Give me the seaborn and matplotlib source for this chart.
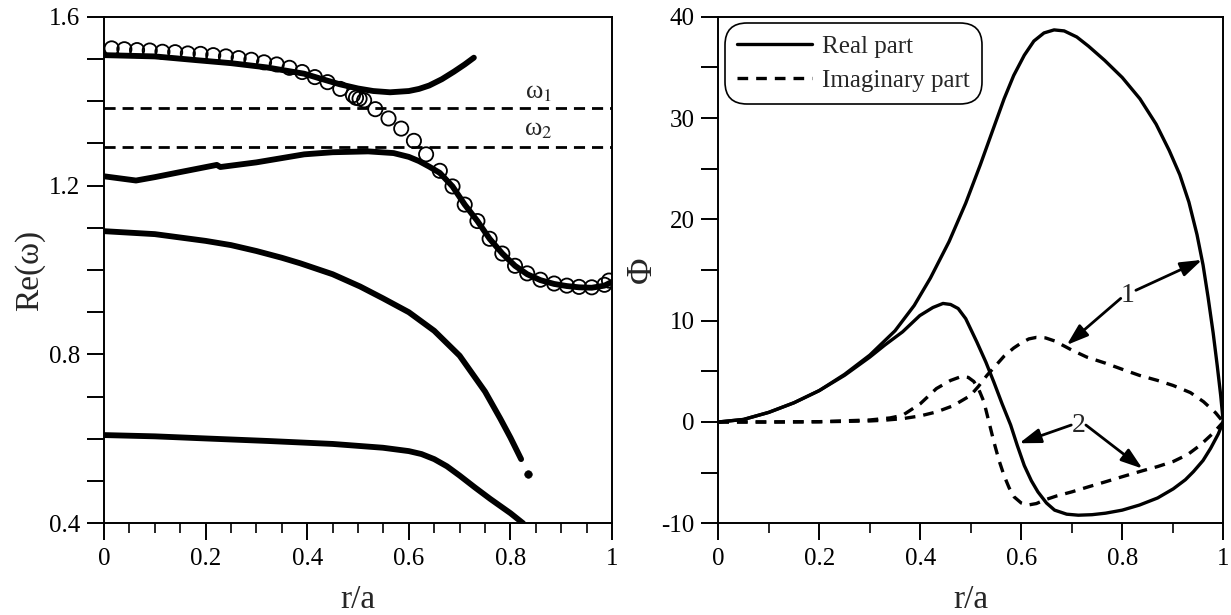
import numpy as np
import pandas as pd
import seaborn as sns
import matplotlib.pyplot as plt
from matplotlib.ticker import FixedLocator, MultipleLocator, FuncFormatter

# ---- left panel: Re(omega) vs r/a ----
# upper branch (ends at r/a ~ 0.73)
r_a = [0.0, 0.1, 0.183, 0.25, 0.32, 0.394, 0.43, 0.464, 0.5, 0.53, 0.563, 0.6, 0.62, 0.64, 0.665,
       0.689, 0.71, 0.728]
w_a = [1.509, 1.506, 1.497, 1.490, 1.480, 1.465, 1.452, 1.440, 1.430, 1.424, 1.421, 1.424, 1.429, 1.437, 1.452,
       1.470, 1.487, 1.503]

# second branch, joins the circles past r/a ~ 0.65
r_b = [0.0, 0.063, 0.1, 0.15, 0.222, 0.229, 0.3, 0.394, 0.45, 0.52, 0.57, 0.6, 0.62, 0.64, 0.661, 0.686,
       0.71, 0.735, 0.759, 0.784, 0.809, 0.833, 0.859, 0.886, 0.911, 0.935, 0.96, 0.985, 1.0]
w_b = [1.222, 1.212, 1.220, 1.232, 1.249, 1.244, 1.255, 1.274, 1.279, 1.281, 1.277, 1.268, 1.258, 1.245, 1.230, 1.198,
       1.155, 1.116, 1.074, 1.039, 1.010, 0.990, 0.976, 0.967, 0.962, 0.959, 0.958, 0.963, 0.972]

# third branch
r_c = [0.0, 0.1, 0.2, 0.25, 0.3, 0.35, 0.386, 0.45, 0.504, 0.549, 0.6, 0.65, 0.7, 0.75, 0.78, 0.8, 0.821]
w_c = [1.092, 1.085, 1.069, 1.059, 1.045, 1.029, 1.016, 0.990, 0.961, 0.933, 0.900, 0.856, 0.797, 0.712, 0.648,
       0.603, 0.552]
r_c_end = [0.835]
w_c_end = [0.516]

# lowest branch
r_d = [0.0, 0.1, 0.2, 0.323, 0.45, 0.549, 0.6, 0.625, 0.65, 0.675, 0.7, 0.73, 0.76, 0.78, 0.8, 0.825]
w_d = [0.609, 0.606, 0.601, 0.595, 0.588, 0.579, 0.571, 0.564, 0.552, 0.535, 0.513, 0.485, 0.458, 0.441,
       0.424, 0.400]

# open circles
r_o = [0.015, 0.04, 0.065, 0.09, 0.115, 0.14, 0.165, 0.19, 0.215, 0.24, 0.265, 0.29, 0.315, 0.34,
       0.365, 0.39, 0.415, 0.44, 0.465, 0.49, 0.496, 0.503, 0.512, 0.534, 0.56, 0.585, 0.61, 0.634,
       0.661, 0.686, 0.71, 0.735, 0.759, 0.784, 0.809, 0.833, 0.859, 0.886, 0.911, 0.935, 0.96, 0.985, 0.994]
w_o = [1.525, 1.523, 1.521, 1.520, 1.517, 1.516, 1.513, 1.512, 1.509, 1.506, 1.502, 1.498, 1.492, 1.487,
       1.479, 1.469, 1.457, 1.445, 1.429, 1.414, 1.408, 1.406, 1.402, 1.381, 1.359, 1.335, 1.306, 1.274,
       1.235, 1.198, 1.155, 1.116, 1.074, 1.039, 1.010, 0.992, 0.977, 0.968, 0.963, 0.960, 0.959, 0.965, 0.975]

omega_1 = 1.384
omega_2 = 1.292

# ---- right panel: Phi vs r/a ----
r_re1 = [0.0, 0.05, 0.1, 0.15, 0.2, 0.25, 0.3, 0.35, 0.388, 0.42, 0.457, 0.49, 0.519, 0.545, 0.566,
         0.585, 0.606, 0.625, 0.645, 0.665, 0.685, 0.71, 0.733, 0.765, 0.8, 0.835, 0.867, 0.893, 0.914,
         0.932, 0.948, 0.96, 0.97, 0.98, 0.988, 0.995, 1.0]
phi_re1 = [0.0, 0.25, 0.95, 1.9, 3.1, 4.7, 6.6, 9.0, 11.5, 14.2, 17.8, 21.6, 25.4, 29.0, 31.9,
           34.2, 36.2, 37.6, 38.4, 38.7, 38.6, 38.0, 37.1, 35.7, 34.0, 31.9, 29.4, 26.8, 24.4,
           21.7, 18.5, 15.5, 12.3, 8.8, 5.6, 2.6, 0.0]

r_re2 = [0.0, 0.05, 0.1, 0.15, 0.2, 0.25, 0.3, 0.33, 0.365, 0.399, 0.425, 0.445, 0.46, 0.475, 0.49,
         0.512, 0.53, 0.546, 0.562, 0.579, 0.592, 0.606, 0.62, 0.633, 0.65, 0.666, 0.69, 0.713, 0.74,
         0.767, 0.8, 0.834, 0.87, 0.901, 0.925, 0.941, 0.96, 0.975, 0.99, 1.0]
phi_re2 = [0.0, 0.25, 0.95, 1.9, 3.1, 4.6, 6.4, 7.6, 8.9, 10.5, 11.3, 11.7, 11.6, 11.2, 10.2,
           7.9, 5.9, 3.9, 1.8, -0.3, -2.3, -4.3, -5.8, -6.9, -8.0, -8.7, -9.1, -9.2, -9.15,
           -9.0, -8.7, -8.2, -7.5, -6.6, -5.7, -4.9, -3.8, -2.6, -1.2, 0.0]

r_im1 = [0.0, 0.1, 0.2, 0.3, 0.33, 0.365, 0.4, 0.432, 0.465, 0.499, 0.515, 0.532, 0.55, 0.566, 0.585,
         0.6, 0.615, 0.63, 0.648, 0.666, 0.685, 0.7, 0.73, 0.767, 0.8, 0.834, 0.87, 0.901, 0.935,
         0.961, 0.985, 1.0]
phi_im1 = [0.0, 0.0, 0.02, 0.1, 0.18, 0.33, 0.6, 0.99, 1.6, 2.6, 3.5, 4.6, 5.6, 6.5, 7.3,
           7.8, 8.2, 8.35, 8.3, 8.0, 7.5, 7.1, 6.4, 5.8, 5.2, 4.6, 4.1, 3.6, 2.9,
           2.0, 0.9, 0.0]

r_im2 = [0.0, 0.1, 0.2, 0.3, 0.34, 0.365, 0.4, 0.432, 0.46, 0.482, 0.495, 0.506, 0.516, 0.526, 0.536,
         0.546, 0.556, 0.566, 0.576, 0.586, 0.6, 0.613, 0.63, 0.646, 0.67, 0.7, 0.733, 0.767, 0.8,
         0.841, 0.87, 0.901, 0.93, 0.954, 0.98, 1.0]
phi_im2 = [0.0, 0.0, 0.03, 0.2, 0.4, 0.66, 1.8, 3.3, 4.1, 4.5, 4.4, 4.0, 3.2, 2.0, 0.0,
           -2.0, -3.8, -5.3, -6.5, -7.4, -8.0, -8.2, -8.05, -7.7, -7.3, -6.9, -6.4, -5.9, -5.4,
           -4.8, -4.4, -3.9, -3.2, -2.3, -1.1, 0.0]

sns.set_style("ticks")
plt.rcParams['font.family'] = ['Liberation Serif', 'DejaVu Serif']
plt.rcParams['mathtext.fontset'] = 'stix'
plt.rcParams['axes.unicode_minus'] = False

fig = plt.figure(figsize=(12.31, 6.15), dpi=100)
ax1 = fig.add_axes([0.0845, 0.1491, 0.4127, 0.8237])
ax2 = fig.add_axes([0.5835, 0.1491, 0.4102, 0.8237])

black = 'black'
thick = dict(color=black, lw=4.2, estimator=None, sort=False, legend=False)

# left panel
ax1.axhline(omega_1, color=black, lw=2, linestyle=(0, (4, 2.5)))
ax1.axhline(omega_2, color=black, lw=2, linestyle=(0, (4, 2.5)))
sns.lineplot(x=r_a, y=w_a, ax=ax1, **thick)
sns.lineplot(x=r_b, y=w_b, ax=ax1, **thick)
sns.lineplot(x=r_c, y=w_c, ax=ax1, **thick)
sns.lineplot(x=r_d, y=w_d, ax=ax1, **thick)
sns.scatterplot(x=r_c_end, y=w_c_end, ax=ax1, color=black, s=30, edgecolor=black)
sns.scatterplot(x=r_o, y=w_o, ax=ax1, s=105, facecolor='none', edgecolor=black, linewidth=1.3, zorder=3)

ax1.text(0.855, 1.42, r'ω$_1$', fontsize=19, ha='center', va='center')
ax1.text(0.855, 1.331, r'ω$_2$', fontsize=19, ha='center', va='center')

ax1.set_xlim(0, 1)
ax1.set_ylim(0.4, 1.6)
ax1.xaxis.set_major_locator(MultipleLocator(0.2))
ax1.xaxis.set_minor_locator(MultipleLocator(0.05))
ax1.yaxis.set_major_locator(FixedLocator(np.round(np.arange(0.4, 1.61, 0.1), 2)))
ax1.yaxis.set_major_formatter(FuncFormatter(
    lambda v, p: f"{v:.1f}" if abs(round(v / 0.4) * 0.4 - v) < 1e-6 else ""))
ax1.xaxis.set_major_formatter(FuncFormatter(lambda v, p: f"{v:g}"))
ax1.set_xlabel("r/a", fontsize=24, labelpad=10)
ax1.set_ylabel("Re(ω)", fontsize=24, labelpad=3)

# right panel
sns.lineplot(x=r_re1, y=phi_re1, ax=ax2, color=black, lw=2.4, estimator=None, sort=False, label="Real part")
sns.lineplot(x=r_im1, y=phi_im1, ax=ax2, color=black, lw=2.4, estimator=None, sort=False,
             linestyle=(0, (3.2, 2.4)), label="Imaginary part")
sns.lineplot(x=r_re2, y=phi_re2, ax=ax2, color=black, lw=2.4, estimator=None, sort=False, legend=False)
sns.lineplot(x=r_im2, y=phi_im2, ax=ax2, color=black, lw=2.4, estimator=None, sort=False,
             linestyle=(0, (3.2, 2.4)), legend=False)

arrow = dict(arrowstyle='-|>,head_length=0.65,head_width=0.22', color=black, lw=2,
             shrinkA=0, shrinkB=0, mutation_scale=20)
ax2.text(0.81, 12.5, "1", fontsize=20, ha='center', va='center')
ax2.annotate("", xy=(0.958, 16.0), xytext=(0.827, 13.0), arrowprops=arrow)
ax2.annotate("", xy=(0.69, 7.6), xytext=(0.797, 12.2), arrowprops=arrow)
ax2.text(0.713, -0.3, "2", fontsize=20, ha='center', va='center')
ax2.annotate("", xy=(0.596, -2.1), xytext=(0.699, -0.3), arrowprops=arrow)
ax2.annotate("", xy=(0.84, -4.6), xytext=(0.728, -0.3), arrowprops=arrow)

ax2.set_xlim(0, 1)
ax2.set_ylim(-10, 40)
ax2.xaxis.set_major_locator(MultipleLocator(0.2))
ax2.xaxis.set_minor_locator(MultipleLocator(0.1))
ax2.yaxis.set_major_locator(MultipleLocator(5))
ax2.yaxis.set_major_formatter(FuncFormatter(lambda v, p: f"{v:.0f}" if round(v) % 10 == 0 else ""))
ax2.xaxis.set_major_formatter(FuncFormatter(lambda v, p: f"{v:g}"))
ax2.set_xlabel("r/a", fontsize=24, labelpad=10)
ax2.set_ylabel("Φ", fontsize=26, labelpad=2)

leg = ax2.legend(loc='upper left', fontsize=18, frameon=True, fancybox=True, handlelength=3.0,
                 handletextpad=0.4, borderpad=0.3, labelspacing=0.45, borderaxespad=0.45)
leg.get_frame().set_edgecolor(black)
leg.get_frame().set_linewidth(1.2)
leg.get_frame().set_alpha(1)
leg.get_frame().set_boxstyle('round,pad=0.2,rounding_size=0.9')

for ax in (ax1, ax2):
    for s in ax.spines.values():
        s.set_visible(True)
        s.set_linewidth(1.4)
        s.set_color(black)
    ax.tick_params(which='major', direction='out', length=12, width=1.4, labelsize=18, colors=black, pad=6)
    ax.tick_params(which='minor', direction='out', length=7, width=1.4)
    ax.tick_params(axis='y', which='major', pad=5)

fig.savefig("out.png", dpi=100)
